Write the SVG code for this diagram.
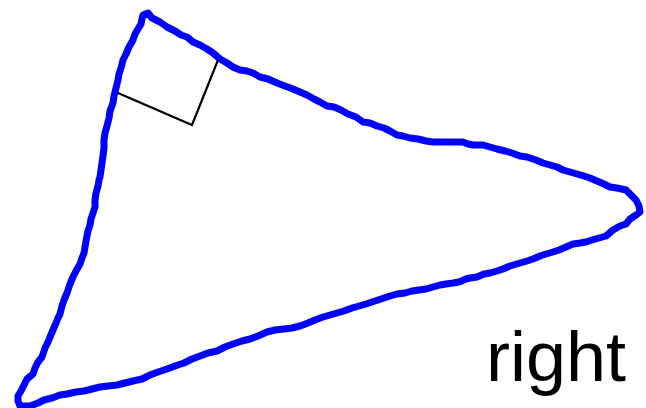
<svg xmlns="http://www.w3.org/2000/svg" width="646" height="408" viewBox="0 0 646 408">
<style>
.tri{fill:none;stroke:#0000ff;stroke-width:7;stroke-linejoin:round;stroke-linecap:round}
.mark{fill:none;stroke:#000;stroke-width:2.2}
.lbl{font-family:"Liberation Sans","DejaVu Sans",sans-serif;font-size:70px;fill:#000}
</style>
<rect width="646" height="408" fill="#fff"/>
<g id="triangle">
<path class="tri" d="M148,13 L152,18 L160,22 L167,27 L175,31 L181,35 L187,37 L193,42 L200,45 L207,49 L213,53 L220,59 L227,63 L233,67 L240,70 L247,71 L253,73 L260,77 L268,79 L277,83 L285,86 L293,89 L300,92 L307,95 L314,99 L320,102 L327,106 L334,107 L341,110 L348,114 L356,117 L363,122 L370,123 L377,126 L384,128 L390,131 L397,135 L403,136 L410,138 L418,139 L426,141 L433,142 L443,142 L453,142 L463,142 L468,144 L473,145 L483,145 L490,147 L497,149 L505,151 L512,153 L520,156 L527,157 L536,160 L543,163 L550,165 L557,167 L563,170 L570,172 L577,174 L584,176 L590,178 L597,181 L604,184 L610,187 L617,188 L626,190 L631,195 L636,200 L639,206 L640,212 L636,215 L630,219 L626,224 L620,226 L613,230 L606,236 L599,238 L592,240 L586,242 L580,243 L573,244 L566,247 L559,250 L553,252 L546,254 L540,256 L533,259 L527,261 L520,263 L510,266 L503,269 L497,271 L490,273 L484,274 L477,277 L470,278 L466,279 L459,282 L453,283 L446,284 L440,285 L433,287 L426,289 L419,290 L412,291 L405,293 L397,294 L390,296 L384,298 L378,300 L372,302 L366,304 L359,306 L352,308 L344,311 L337,313 L330,315 L323,317 L315,320 L308,323 L300,326 L292,328 L284,329 L275,330 L267,332 L258,336 L250,339 L242,341 L233,344 L225,347 L217,351 L208,353 L200,356 L192,359 L184,363 L175,366 L167,369 L158,372 L150,375 L142,379 L133,381 L125,383 L117,385 L108,386 L100,387 L92,389 L84,391 L76,392 L67,394 L60,395 L52,398 L44,400 L38,403 L30,406 L24,406 L20,406 L18,401 L18,396 L21,391 L24,385 L27,379 L33,374 L35,368 L38,362 L42,357 L43,354 L45,348 L48,342 L50,337 L53,330 L56,323 L58,318 L60,314 L62,306 L64,300 L67,293 L70,284 L73,277 L76,271 L80,264 L82,258 L84,253 L85,247 L86,241 L87,236 L88,231 L90,225 L91,219 L93,213 L95,207 L95,200 L96,193 L98,186 L99,180 L100,177 L101,170 L102,163 L103,156 L104,148 L104,140 L105,133 L107,126 L109,118 L110,111 L113,103 L114,96 L116,88 L118,80 L119,74 L121,68 L123,60 L126,54 L129,47 L133,40 L135,34 L138,29 L141,24 L142,19 L143,15 Z"/>
</g>
<g id="right-angle-mark">
<polyline class="mark" points="118,93 192,125 218,60"/>
</g>
<g id="label">
<text class="lbl" x="486" y="381" textLength="140" lengthAdjust="spacingAndGlyphs">right</text>
</g>
</svg>
